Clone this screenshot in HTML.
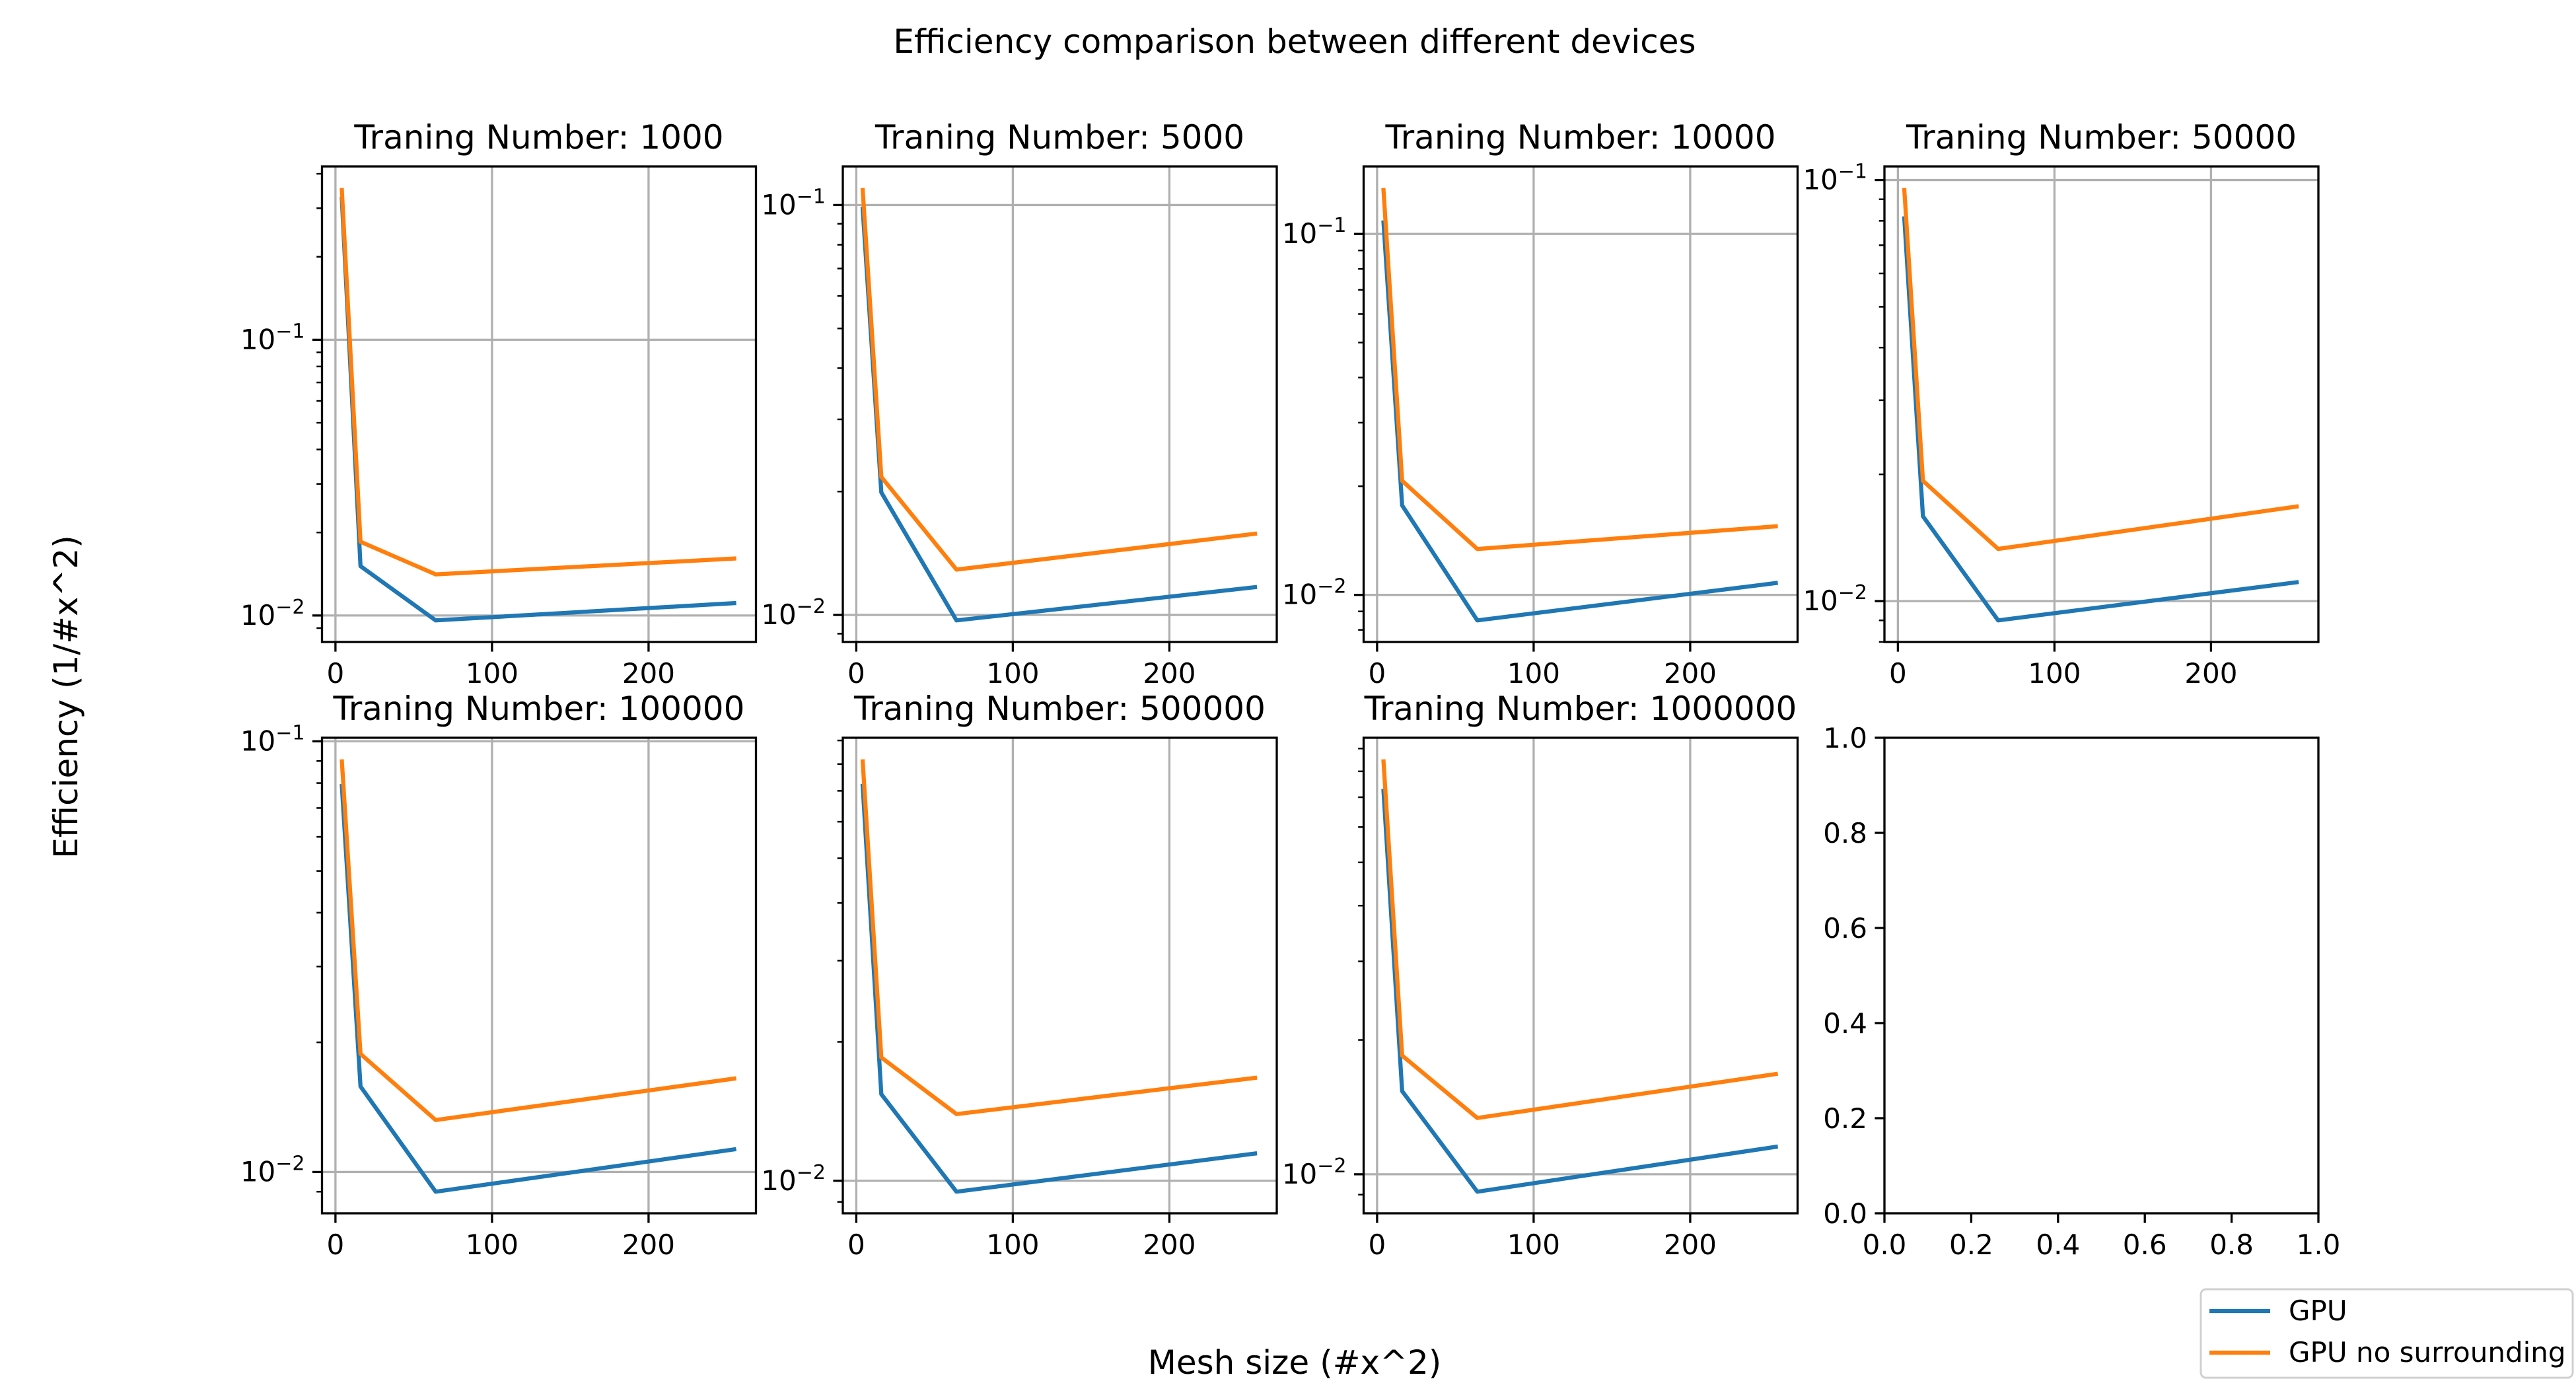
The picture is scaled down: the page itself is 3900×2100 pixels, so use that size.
<!DOCTYPE html>
<html><head><meta charset="utf-8">
<style>
html,body{margin:0;padding:0;background:#fff;}
svg{display:block;font-family:"DejaVu Sans","Liberation Sans",sans-serif;}
</style></head>
<body>
<svg id="fig" width="3900" height="2100" viewBox="0 0 3900 2100" xmlns="http://www.w3.org/2000/svg">
<rect x="0" y="0" width="3900" height="2100" fill="#fff"/>
<text x="1960" y="80" font-size="50" text-anchor="middle">Efficiency comparison between different devices</text>
<text x="1960" y="2080" font-size="50" text-anchor="middle">Mesh size (#x^2)</text>
<text x="0" y="0" font-size="50" text-anchor="middle" transform="translate(117,1055) rotate(-90)">Efficiency (1/#x^2)</text>
<g id="plots"></g>
<g>
<rect x="3332" y="1952" width="563" height="134" rx="8" fill="#fff" fill-opacity="0.8" stroke="#d0d0d0" stroke-width="3"/>
<line x1="3345" y1="1985" x2="3437" y2="1985" stroke="#1f77b4" stroke-width="6.25"/>
<text x="3465" y="1999" font-size="42">GPU</text>
<line x1="3345" y1="2048" x2="3437" y2="2048" stroke="#ff7f0e" stroke-width="6.25"/>
<text x="3465" y="2062" font-size="42">GPU no surrounding</text>
</g>
</svg>
<script>
const meshSizes = [4, 16, 64, 256];
const titles = ["1000","5000","10000","50000","100000","500000","1000000"];
const gpu1 = [0.33, 0.0151, 0.0096, 0.0111];
const gpu2 = [0.099, 0.0199, 0.0097, 0.0117];
const gpu3 = [0.109, 0.0177, 0.0085, 0.0108];
const gpu4 = [0.082, 0.0159, 0.0090, 0.0111];
const gpu5 = [0.0796, 0.0158, 0.0090, 0.0113];
const gpu6 = [0.0725, 0.0154, 0.00947, 0.01147];
const gpu7 = [0.0731, 0.01536, 0.00914, 0.01154];
const nosur1 = [0.355, 0.0185, 0.0141, 0.0161];
const nosur2 = [0.11, 0.0217, 0.0129, 0.0158];
const nosur3 = [0.134, 0.0207, 0.0134, 0.0155];
const nosur4 = [0.0957, 0.0193, 0.0133, 0.0168];
const nosur5 = [0.0908, 0.0188, 0.0132, 0.0165];
const nosur6 = [0.0819, 0.0185, 0.01395, 0.01673];
const nosur7 = [0.0851, 0.01845, 0.01337, 0.0168];
const xTicks = [0, 100, 200];
const linTicks = ["0.0","0.2","0.4","0.6","0.8","1.0"];

const gpuAll=[gpu1,gpu2,gpu3,gpu4,gpu5,gpu6,gpu7];
const nosurAll=[nosur1,nosur2,nosur3,nosur4,nosur5,nosur6,nosur7];
const NS="http://www.w3.org/2000/svg";
const root=document.getElementById('plots');
const colL=[487.5,1276,2064.5,2853], W=657;
const rowT=[252,1117], H=720;
const FS=42;
function mk(tag,attrs,parent){const e=document.createElementNS(NS,tag);for(const k in attrs)e.setAttribute(k,attrs[k]);parent.appendChild(e);return e;}

function drawPanel(i){
  const L=colL[i%4], T=rowT[Math.floor(i/4)], R=L+W, B=T+H;
  const g=mk('g',{},root);
  
  
  const all=gpuAll[i].concat(nosurAll[i]);
  let lmin=Math.log10(Math.min(...all)), lmax=Math.log10(Math.max(...all));
  const m=(lmax-lmin)*0.05; lmin-=m; lmax+=m;
  const xmin=meshSizes[0]-(meshSizes[3]-meshSizes[0])*0.05, xmax=meshSizes[3]+(meshSizes[3]-meshSizes[0])*0.05;
  const sx=v=>L+(v-xmin)/(xmax-xmin)*W;
  const sy=v=>B-(Math.log10(v)-lmin)/(lmax-lmin)*H;
  xTicks.forEach(t=>{
    const x=sx(t);
    const gl=mk('line',{x1:x,x2:x,y1:T,y2:B,stroke:'#b0b0b0','stroke-width':3.3},g);
    
    
    const tk=mk('line',{x1:x,x2:x,y1:B,y2:B+14.6,stroke:'#000','stroke-width':3.3},g);
    
    
    const tl=mk('text',{x:x,y:B+62,'font-size':FS,'text-anchor':'middle'},g);
    tl.textContent=String(t);
    
    
  });
  for(let d=Math.floor(lmin);d<=Math.ceil(lmax);d++){
    for(let k=1;k<10;k++){
      const lv=d+Math.log10(k);
      if(lv<lmin||lv>lmax)continue;
      const y=B-(lv-lmin)/(lmax-lmin)*H;
      if(k===1){
        const gl=mk('line',{x1:L,x2:R,y1:y,y2:y,stroke:'#b0b0b0','stroke-width':3.3},g);
        
        
        const tk=mk('line',{x1:L-14.6,x2:L,y1:y,y2:y,stroke:'#000','stroke-width':3.3},g);
        
        
        const tl=mk('text',{x:L-26,y:y+14,'font-size':FS,'text-anchor':'end'},g);
        
        
        const a=document.createElementNS(NS,'tspan');a.textContent='10';tl.appendChild(a);
        const b=document.createElementNS(NS,'tspan');b.setAttribute('font-size','30');b.setAttribute('dy','-17');b.textContent='\u2212'+(-d);tl.appendChild(b);
      } else {
        const tk=mk('line',{x1:L-8.3,x2:L,y1:y,y2:y,stroke:'#000','stroke-width':2.5},g);
        
        
      }
    }
  }
  const series=[[gpuAll[i],'#1f77b4','gpu-line'],[nosurAll[i],'#ff7f0e','gpu-no-surrounding-line']];
  series.forEach(s=>{
    const pts=s[0].map((v,j)=>sx(meshSizes[j]).toFixed(1)+','+sy(v).toFixed(1)).join(' ');
    const pl=mk('polyline',{points:pts,fill:'none',stroke:s[1],'stroke-width':6.25,'stroke-linejoin':'round'},g);
    
    
  });
  const fr=mk('rect',{x:L,y:T,width:W,height:H,fill:'none',stroke:'#000','stroke-width':3.3},g);
  
  
  const tt=mk('text',{x:L+W/2,y:T-27,'font-size':50,'text-anchor':'middle'},g);
  tt.textContent='Traning Number: '+titles[i];
  
  
}
for(let i=0;i<7;i++)drawPanel(i);

(function(){
  const L=colL[3], T=rowT[1], R=L+W, B=T+H;
  const g=mk('g',{},root);
  
  
  linTicks.forEach((t,j)=>{
    const v=parseFloat(t);
    const x=L+v*W, y=B-v*H;
    const a=mk('line',{x1:x,x2:x,y1:B,y2:B+14.6,stroke:'#000','stroke-width':3.3},g);
    
    
    const at=mk('text',{x:x,y:B+62,'font-size':FS,'text-anchor':'middle'},g);
    at.textContent=t;
    
    
    const b=mk('line',{x1:L-14.6,x2:L,y1:y,y2:y,stroke:'#000','stroke-width':3.3},g);
    
    
    const bt=mk('text',{x:L-26,y:y+15,'font-size':FS,'text-anchor':'end'},g);
    bt.textContent=t;
    
    
  });
  const fr=mk('rect',{x:L,y:T,width:W,height:H,fill:'none',stroke:'#000','stroke-width':3.3},g);
  
  
})();
</script>
</body></html>
